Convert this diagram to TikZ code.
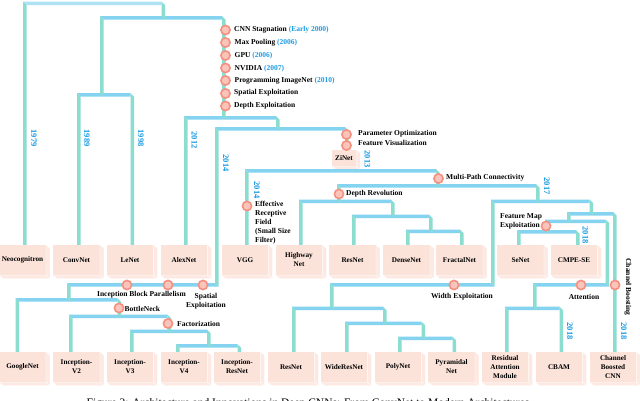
\documentclass[tikz,border=0pt]{standalone}
\usepackage{fontspec}
\setmainfont{Liberation Serif}
\usetikzlibrary{calc}
\definecolor{hcol}{HTML}{84D3F0}
\definecolor{hcollt}{HTML}{ADE3F5}
\definecolor{vcol}{HTML}{8ADDCF}
\definecolor{boxfront}{HTML}{FCE3DA}
\definecolor{boxside}{HTML}{FDE9E2}
\definecolor{yearcol}{HTML}{1B9CE5}
\definecolor{ringcol}{HTML}{F59080}
\definecolor{ringin}{HTML}{F9C4BA}
\tikzset{
  x=1pt,y=-1pt,
  boxnode/.style={rectangle,fill=boxfront,minimum width=46.5pt,minimum height=30pt,inner sep=0pt,align=center,font=\fontsize{7.2}{9}\selectfont\bfseries,text=black},
  facefill/.style={fill=boxside,draw=white,line width=.3pt},
  dot/.style={circle,draw=ringcol,fill=ringin,line width=1.6pt,minimum size=9.2pt,inner sep=0pt},
  lab/.style={anchor=west,inner sep=0pt,font=\fontsize{7.5}{9.5}\selectfont\bfseries,text=black},
  clab/.style={anchor=center,inner sep=0pt,align=center,font=\fontsize{7.5}{9.5}\selectfont\bfseries,text=black},
  yearlab/.style={rotate=-90,inner sep=0pt,font=\fontsize{8.5}{9}\selectfont\bfseries,text=yearcol},
}
\newcommand{\yr}[1]{{\color{yearcol}#1}}
% cuboid box: name, centre x, centre y, text
\newcommand{\BX}[4]{%
  \node[boxnode] (#1) at (#2,#3) {#4};
  \fill[facefill] (#1.north east) -- ++(4,3.5) -- ($(#1.south east)+(4,3.5)$) -- (#1.south east) -- cycle;
  \fill[facefill] (#1.south west) -- (#1.south east) -- ++(4,3.5) -- ($(#1.south west)+(4,3.5)$) -- cycle;
}
% horizontal bar with named ends: name, xl, xr, top y
\newcommand{\HB}[5][hcol]{%
  \coordinate (#2-l) at (#3,#5);
  \coordinate (#2-r) at (#4,#5);
  \fill[#1] (#3,#5) -- (#4,#5) -- ++(0,3.5) -- ($(#3,#5)+(3.5,3.5)$) -- cycle;
}
% corner bar: its right end is joined by a bar from above
\newcommand{\HC}[3]{%
  \coordinate (#1-l) at (#2,283);
  \coordinate (#1-r) at (#3,283);
  \coordinate (#1-b) at (#3,286.5);
  \fill[hcol] (#2,283) -- ($(#3,283)+(-3.5,0)$) -- (#3,286.5) -- ($(#2,283)+(3.5,3.5)$) -- cycle;
}
% vertical bar from a bar end to a node
\newcommand{\VB}[2]{%
  \fill[vcol] (#1) -- ++(3.5,3.5) -- ($(#1 |- #2)+(3.5,0)$) -- (#1 |- #2) -- cycle;
}
% vertical bar from a bar end down on to another bar
\newcommand{\VJ}[2]{%
  \fill[vcol] (#1) -- ++(3.5,3.5) -- ($(#1 |- #2)+(3.5,3.5)$) -- (#1 |- #2) -- cycle;
}
\begin{document}
\begin{tikzpicture}
\useasboundingbox (0,0) rectangle (640,400);
\fill[white] (0,0) rectangle (640,400);
% boxes, first row
\BX{neo}{22.5}{260}{Neocognitron}
\BX{conv}{76.5}{260}{ConvNet}
\BX{lenet}{130}{260}{LeNet}
\BX{alex}{184}{260}{AlexNet}
\BX{vgg}{245}{260}{VGG}
\BX{highway}{299}{260}{Highway\\Net}
\BX{resa}{352.5}{260}{ResNet}
\BX{dense}{406.5}{260}{DenseNet}
\BX{fractal}{459.5}{260}{FractalNet}
\BX{senet}{520.5}{260}{SeNet}
\BX{cmpe}{574}{260}{CMPE-SE}
% boxes, second row
\BX{google}{22.5}{367}{GoogleNet}
\BX{incb}{76.5}{367}{Inception-\\V2}
\BX{incc}{130}{367}{Inception-\\V3}
\BX{incd}{184}{367}{Inception-\\V4}
\BX{incres}{237}{367}{Inception-\\ResNet}
\BX{resb}{291}{367}{ResNet}
\BX{wide}{344}{367}{WideResNet}
\BX{poly}{398}{367}{PolyNet}
\BX{pyr}{451.5}{367}{Pyramidal\\Net}
\BX{resatt}{505}{367}{Residual\\Attention\\Module}
\BX{cbam}{559}{367}{CBAM}
\BX{chboost}{613}{367}{Channel\\Boosted\\CNN}
% ZiNet
\node[boxnode,minimum width=24pt,minimum height=16pt] (zinet) at (344,158) {ZiNet};
\fill[facefill] (zinet.north east) -- ++(4,3) -- ($(zinet.south east)+(4,3)$) -- (zinet.south east) -- cycle;
\fill[facefill] (zinet.south west) -- (zinet.south east) -- ++(4,3) -- ($(zinet.south west)+(4,3)$) -- cycle;
% horizontal bars
\HB[hcollt]{a}{23}{161.5}{1.5}
\HB{b}{100}{222}{16}
\HB{c}{77}{130.5}{93}
\HB{d}{184}{276}{116}
\HB{e}{215}{345}{127}
\HB{f}{15.5}{117.5}{298}
\HB{g}{69}{167.5}{314.5}
\HB{h}{130}{207}{329.5}
\HB{i}{176}{237.5}{344}
\HB{w}{245}{436}{169}
\HB{y}{337}{536}{184}
\HB{z}{299}{391}{199.5}
\HB{k}{352}{429}{214.5}
\HB{l}{406}{460}{229.5}
\HB{p}{491}{589.5}{199.5}
\HB{m}{292}{383}{306.5}
\HB{n}{345}{421.5}{321.5}
\HB{o}{398}{452.5}{336.5}
\HB{q}{567}{613}{212}
\HB{r}{545}{605.5}{219.5}
\HB{s}{517}{576}{230}
\HB{u}{505}{559.5}{306.5}
% corner bars
\coordinate (xb) at (0,283);
\VJ{e-l}{xb}
\HC{x}{67}{218.5}
\VJ{p-l}{xb}
\HC{v}{330}{494.5}
\VJ{r-r}{xb}
\HC{t}{533}{609}
% vertical bars
\VB{a-l}{neo.north}
\VJ{a-r}{b-l}
\VJ{b-l}{c-l}
\VJ{b-r}{d-r}
\VB{c-l}{conv.north}
\VB{c-r}{lenet.north}
\VB{d-l}{alex.north}
\VJ{d-r}{e-l}
\VB{e-r}{zinet.north}
\VJ{x-l}{f-l}
\VB{f-l}{google.north}
\VJ{f-r}{g-l}
\VB{g-l}{incb.north}
\VJ{g-r}{h-l}
\VB{h-l}{incc.north}
\VJ{h-r}{i-l}
\VB{i-l}{incd.north}
\VB{i-r}{incres.north}
\VB{w-l}{vgg.north}
\VJ{w-r}{y-l}
\VJ{y-l}{z-l}
\VJ{y-r}{p-l}
\VB{z-l}{highway.north}
\VJ{z-r}{k-l}
\VB{k-l}{resa.north}
\VJ{k-r}{l-l}
\VB{l-l}{dense.north}
\VB{l-r}{fractal.north}
\VJ{p-r}{q-l}
\VJ{v-l}{m-l}
\VB{m-l}{resb.north}
\VJ{m-r}{n-l}
\VB{n-l}{wide.north}
\VJ{n-r}{o-l}
\VB{o-l}{poly.north}
\VB{o-r}{pyr.north}
\VJ{q-l}{r-l}
\VB{q-r}{chboost.north}
\VJ{r-l}{s-l}
\VB{s-l}{senet.north}
\VB{s-r}{cmpe.north}
\VJ{t-l}{u-l}
\VB{u-l}{resatt.north}
\VB{u-r}{cbam.north}
% milestone dots and labels
\foreach \nm/\yy in {d1/30,d2/42.5,d3/55.5,d4/68,d5/80.5,d6/93.5,d7/106}{\node[dot] (\nm) at (225.5,\yy) {};}
\node[lab] (l1) at (234,30) {CNN Stagnation \yr{(Early 2000)}};
\node[lab] (l2) at (234.5,42.5) {Max Pooling \yr{(2006)}};
\node[lab] (l3) at (234.5,55.5) {GPU \yr{(2006)}};
\node[lab] (l4) at (234.5,68.5) {NVIDIA \yr{(2007)}};
\node[lab] (l5) at (234.5,80.5) {Programming ImageNet \yr{(2010)}};
\node[lab] (l6) at (234,93) {Spatial Exploitation};
\node[lab] (l7) at (234,106) {Depth Exploitation};
\node[dot] (d8) at (346.5,134.5) {};
\node[dot] (d9) at (346.5,145.5) {};
\node[lab] (l8) at (358,134) {Parameter Optimization};
\node[lab] (l9) at (358,143) {Feature Visualization};
\node[dot] (d10) at (438.5,178.5) {};
\node[lab] (l10) at (446,178) {Multi-Path Connectivity};
\node[dot] (d11) at (339,194) {};
\node[lab] (l11) at (346,193.5) {Depth Revolution};
\node[dot] (d12) at (247,206) {};
\node[lab,align=left,anchor=north west,font=\fontsize{7.5}{9}\selectfont\bfseries] (l12) at (255,201) {Effective\\Receptive\\Field\\(Small Size\\Filter)};
\node[dot] (d13) at (127,285) {};
\node[dot] (d14) at (168,285) {};
\node[dot] (d15) at (203,285) {};
\node[clab] (l13) at (141.5,295) {Inception Block Parallelism};
\node[clab] (l14) at (206,301) {Spatial\\Exploitation};
\node[dot] (d16) at (119,308) {};
\node[lab] (l15) at (124.5,309) {BottleNeck};
\node[dot] (d17) at (168,323.5) {};
\node[lab] (l16) at (177,323.5) {Factorization};
\node[dot] (d18) at (454,285) {};
\node[clab] (l17) at (462,297) {Width Exploitation};
\node[dot] (d19) at (581,285) {};
\node[clab] (l18) at (584,297) {Attention};
\node[dot] (d20) at (615,285) {};
\node[dot] (d21) at (546,226) {};
\node[lab,align=left] (l19) at (500,221.5) {Feature Map\\Exploitation};
\node[clab,rotate=-90] (l20) at (628,287) {Channel Boosting};
% year labels
\node[yearlab] (y1) at (34,138) {1979};
\node[yearlab] (y2) at (87,138) {1989};
\node[yearlab] (y3) at (141,138) {1998};
\node[yearlab] (y4) at (194.5,140) {2012};
\node[yearlab] (y5) at (226,163) {2014};
\node[yearlab] (y6) at (257,190) {2014};
\node[yearlab] (y7) at (367.5,159) {2013};
\node[yearlab] (y8) at (547,186) {2017};
\node[yearlab] (y9) at (585.5,235) {2018};
\node[yearlab] (y10) at (570,331) {2018};
\node[yearlab] (y11) at (624,331) {2018};
% caption
\node[anchor=north,inner sep=0pt,font=\fontsize{11.5}{13}\selectfont,text=black] (cap) at (308,398.5) {Figure 2: Architecture and Innovations in Deep CNNs: From ConvNet to Modern Architectures};
\end{tikzpicture}
\end{document}
